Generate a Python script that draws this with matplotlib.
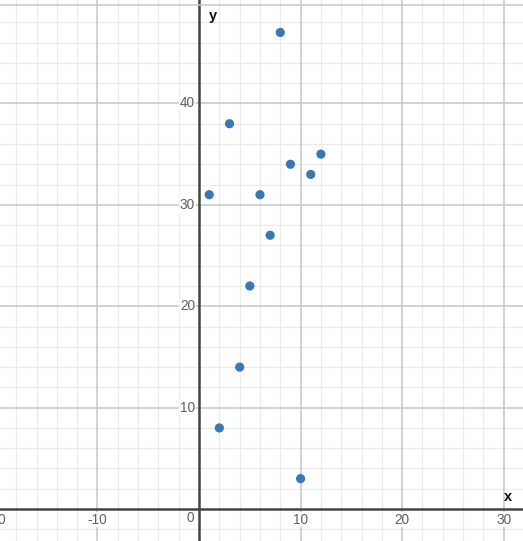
import matplotlib
matplotlib.use("Agg")
import matplotlib.pyplot as plt
from matplotlib.lines import Line2D
import numpy as np

x_vals = [1, 2, 3, 4, 5, 6, 7, 8, 9, 10, 11, 12]
y_vals = [31, 8, 38, 14, 22, 31, 27, 47, 34, 3, 33, 35]
x_ticks = [-20, -10, 10, 20, 30]
y_ticks = [10, 20, 30, 40]

plt.rcParams['font.family'] = ['Liberation Sans', 'DejaVu Sans']

fig = plt.figure(figsize=(5.23, 5.41), dpi=100)
ax = fig.add_axes([0, 0, 1, 1])
ax.set_xlim(-19.6, 31.9)
ax.set_ylim(-3.15, 50.2)
for s in ax.spines.values():
    s.set_visible(False)
ax.set_xticks([])
ax.set_yticks([])

# minor grid
for v in np.arange(-20, 34, 2):
    if v % 10 != 0:
        ax.axvline(v, color='#ebebeb', lw=0.9, zorder=0)
for v in np.arange(-4, 52, 2):
    if v % 10 != 0:
        ax.axhline(v, color='#ebebeb', lw=0.9, zorder=0)
# major grid
for v in [-10, 10, 20, 30]:
    ax.axvline(v, color='#c6c6c6', lw=1.1, zorder=1)
for v in [10, 20, 30, 40]:
    ax.axhline(v, color='#c6c6c6', lw=1.1, zorder=1)

# axes lines
ax.axhline(0, color='#444444', lw=1.8, zorder=2)
ax.axvline(0, color='#444444', lw=1.8, zorder=2)

# top border
fig.add_artist(Line2D([0, 1], [1 - 5/541, 1 - 5/541], transform=fig.transFigure,
                      color='#c6c6c6', lw=1.1))

# tick labels
for t in x_ticks:
    ax.text(t, -1.05, str(t), ha='center', va='center', fontsize=9.8, color='#606060', zorder=3,
            bbox=dict(facecolor='white', edgecolor='none', pad=0.5, alpha=0.8))
for t in y_ticks:
    ax.text(-0.4, t, str(t), ha='right', va='center', fontsize=9.8, color='#606060', zorder=3,
            bbox=dict(facecolor='white', edgecolor='none', pad=0.5, alpha=0.8))
ax.text(-0.45, -0.85, '0', ha='right', va='center', fontsize=9.8, color='#606060', zorder=3)

# axis names
ax.text(1.35, 48.6, 'y', ha='center', va='center', fontsize=10.5, fontweight='bold', color='#111111')
ax.text(30.4, 1.15, 'x', ha='center', va='center', fontsize=10.5, fontweight='bold', color='#111111')

ax.scatter(x_vals, y_vals, s=44, color='#3a78b4', edgecolors='none', zorder=4)

fig.savefig('out.png', dpi=100)
